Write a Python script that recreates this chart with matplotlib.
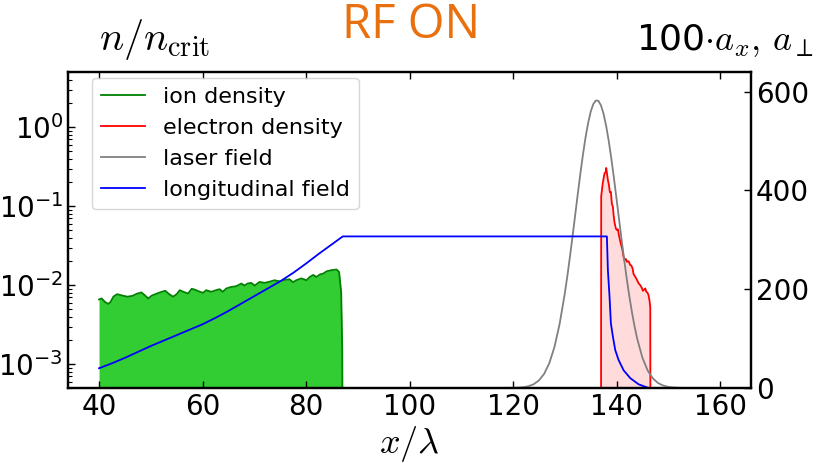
import matplotlib.pyplot as plt
from matplotlib.lines import Line2D

plt.rcParams['mathtext.fontset'] = 'dejavusans'

# --- data ---
# ion density (left axis, n/n_crit)
ion_x = [40.0, 40.5, 41.2, 41.8, 42.2, 42.8, 43.5, 44.5, 45.5, 46.5, 47.3, 48.2,
         48.8, 49.5, 50.2, 51.2, 52.1, 52.8, 53.4, 54.3, 55.0, 55.6, 56.3, 57.2,
         57.9, 58.5, 59.2, 60.1, 60.7, 61.7, 62.6, 63.3, 63.9, 64.6, 65.5, 66.5,
         67.5, 68.1, 68.7, 69.4, 70.1, 71.0, 72.0, 73.0, 73.9, 74.9, 75.8, 76.8,
         77.5, 78.1, 79.1, 80.1, 80.7, 81.4, 82.0, 82.7, 83.3, 84.0, 84.9, 85.9,
         86.4, 86.8, 87.0, 87.2]
ion_n = [6.6e-3, 6.8e-3, 6.1e-3, 5.8e-3, 6.1e-3, 7.2e-3, 7.7e-3, 7.4e-3, 7.15e-3,
         7.35e-3, 7.8e-3, 8.1e-3, 7.5e-3, 6.8e-3, 7.4e-3, 7.85e-3, 8.25e-3, 8.5e-3,
         7.85e-3, 7.15e-3, 7.7e-3, 8.65e-3, 8.25e-3, 7.85e-3, 9.0e-3, 8.8e-3, 8.4e-3,
         8.0e-3, 8.65e-3, 8.25e-3, 8.65e-3, 8.9e-3, 8.25e-3, 9.1e-3, 9.5e-3, 9.7e-3,
         1.05e-2, 9.9e-3, 1.05e-2, 1.07e-2, 9.9e-3, 1.1e-2, 1.07e-2, 1.11e-2, 1.155e-2,
         1.12e-2, 1.165e-2, 1.19e-2, 1.09e-2, 1.155e-2, 1.22e-2, 1.155e-2, 1.27e-2,
         1.35e-2, 1.27e-2, 1.37e-2, 1.4e-2, 1.5e-2, 1.55e-2, 1.58e-2, 1.47e-2, 8e-3,
         1.5e-3, 1e-6]

# electron density (left axis)
ele_x = [136.98, 137.04, 137.36, 137.69, 137.9, 138.01, 138.14, 138.33, 138.52,
         138.72, 138.91, 139.10, 139.30, 139.43, 139.62, 139.88, 140.07, 140.27,
         140.46, 140.72, 140.91, 141.10, 141.36, 141.56, 141.81, 142.01, 142.33,
         142.65, 142.85, 143.10, 143.30, 143.62, 143.94, 144.26, 144.59, 144.91,
         145.10, 145.36, 145.55, 145.75, 146.01, 146.20, 146.39, 146.52, 146.59]
ele_n = [1e-6, 0.134, 0.2, 0.262, 0.27, 0.305, 0.265, 0.215, 0.188, 0.15, 0.152,
         0.108, 0.098, 0.078, 0.062, 0.052, 0.050, 0.051, 0.043, 0.036, 0.032,
         0.029, 0.023, 0.0207, 0.0215, 0.0198, 0.0201, 0.018, 0.0178, 0.0163,
         0.0138, 0.0128, 0.0117, 0.0106, 0.0100, 0.0092, 0.0085, 0.0088, 0.0091,
         0.0083, 0.0080, 0.0074, 0.0063, 0.0052, 1e-6]

# laser field (right axis)
las_x = [110, 120, 121, 122, 123, 124, 125, 126, 127, 128, 129, 130, 130.5, 131,
         131.5, 132, 132.5, 133, 133.5, 134, 134.5, 135, 135.5, 136, 136.5, 137,
         137.5, 138, 138.5, 139, 139.5, 140, 140.5, 141, 141.5, 142, 142.5, 143,
         143.5, 144, 145, 146, 147, 148, 149, 150, 151, 152, 154, 160]
las_a = [0, 0.3, 0.7, 1.7, 3.7, 7.7, 15.3, 28.4, 49.9, 82.7, 129.4, 191, 227, 265.9,
         307, 349.3, 391.8, 433, 471.8, 506.6, 536, 559.2, 574.8, 582.3, 581.5, 572.3,
         555.1, 530.7, 500, 464.3, 425, 383.4, 340.8, 298.6, 257.9, 219.5, 184.2,
         152.3, 124, 99.6, 61.5, 35.8, 19.7, 10.2, 5.0, 2.3, 1.0, 0.4, 0.05, 0]

# longitudinal field (right axis)
lon_x = [40, 42.5, 45, 47.5, 50, 52.5, 55, 57.5, 60, 62.5, 65, 67.5, 70, 72.5, 75,
         77.5, 80, 82.5, 85, 87.1, 138.14, 138.33, 138.65, 138.91, 139.30, 139.75,
         140.39, 141.36, 142.65, 144.26, 146.2, 160]
lon_a = [40, 50, 61, 73, 85, 96, 107, 118, 129, 142, 156, 171, 186, 201, 216, 233,
         252, 272, 291, 307, 307, 239, 185, 131, 104, 77, 57, 36, 20, 7.5, 0, 0]

x_ticks = [40, 60, 80, 100, 120, 140, 160]
n_ticks = [1e-3, 1e-2, 1e-1, 1e0]
a_ticks = [0, 200, 400, 600]

# --- figure ---
fig = plt.figure(figsize=(8.23, 4.63), dpi=100)
ax = fig.add_axes([0.0826, 0.162, 0.83, 0.6825])
ax2 = ax.twinx()

ax.fill_between(ion_x, 1e-6, ion_n, color='#32cd32', lw=0)
ax.plot(ion_x, ion_n, color='green', lw=1.3)
ax.fill_between(ele_x, 1e-6, ele_n, color='red', alpha=0.14, lw=0)
ax.plot(ele_x, ele_n, color='red', lw=1.3)

ax2.plot(las_x, las_a, color='gray', lw=1.3)
ax2.plot(lon_x, lon_a, color='blue', lw=1.3)

ax.set_yscale('log')
ax.set_xlim(34, 166)
ax.set_ylim(5e-4, 5)
ax2.set_ylim(0, 640)
ax.set_xticks(x_ticks)
ax.set_yticks(n_ticks)
ax2.set_yticks(a_ticks)

for a in (ax, ax2):
    for s in a.spines.values():
        s.set_linewidth(1.6)
ax.tick_params(which='major', direction='in', length=5, width=1, labelsize=20,
               top=True)
ax.tick_params(which='minor', direction='in', length=3, width=0.8, top=False)
ax.tick_params(axis='x', which='minor', bottom=False, top=False)
ax2.tick_params(direction='in', length=5, width=1, labelsize=20)

ax.set_xlabel(r'$x/\lambda$', fontsize=26, math_fontfamily='cm', labelpad=2)

# top labels: left axis, title, right axis
fig.text(0.188, 0.892, r'$n/n_{\mathrm{crit}}$', fontsize=29, math_fontfamily='cm',
         ha='center', va='baseline')
fig.text(0.5, 0.946, 'RF ON', fontsize=34, color='#e8700f', family='Open Sans',
         ha='center', va='center')
fig.text(0.773, 0.892, r'100$\cdot a_x,\, a_\perp$', fontsize=26,
         math_fontfamily='cm', ha='left', va='baseline')

handles = [Line2D([], [], color='green', lw=1.3),
           Line2D([], [], color='red', lw=1.3),
           Line2D([], [], color='gray', lw=1.3),
           Line2D([], [], color='blue', lw=1.3)]
labels = ['ion density', 'electron density', 'laser field', 'longitudinal field']
ax2.legend(handles, labels, loc='upper left', bbox_to_anchor=(0.035, 0.981),
           borderaxespad=0, fontsize=16)

fig.savefig('out.png', dpi=100)
